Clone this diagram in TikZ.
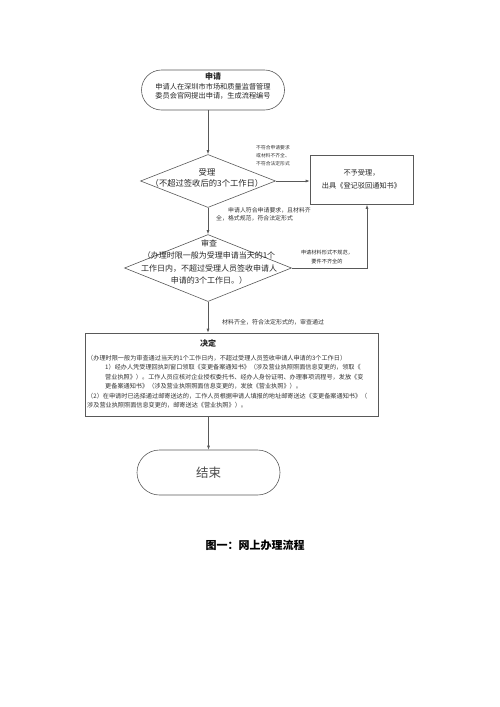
\documentclass[tikz,border=0pt]{standalone}
\usepackage{fontspec}
\setmainfont{Noto Sans CJK SC}
\usetikzlibrary{arrows.meta,shapes.geometric,shapes.misc}
\newcommand{\fs}[2]{\fontsize{#1pt}{#2pt}\selectfont}

\begin{document}
\begin{tikzpicture}[x=1pt,y=-1pt,>={Latex[length=4pt,width=3pt]},
  line/.style={draw=black!65,line width=0.6pt},
  term/.style={line,rounded rectangle,inner sep=0pt},
  dia/.style={line,diamond,inner sep=0pt},
  box/.style={line,rectangle,inner sep=0pt},
  txt/.style={align=center,inner sep=0pt,text=black!85},
  note/.style={align=left,inner sep=0pt,text=black!80}]
  \useasboundingbox (0,0) rectangle (500,707);
  % start
  \node[term,minimum width=143pt,minimum height=40pt] (apply) at (213,90) {};
  \node[txt,font=\fs{7.2}{9.2}] (applytext) at (213,86) {\textbf{\fs{8}{9.2}申请}\\申请人在深圳市市场和质量监督管理\\委员会官网提出申请，生成流程编号};
  % acceptance
  \node[dia,minimum width=135pt,minimum height=53pt] (accept) at (208,181) {};
  \node[txt,font=\fs{8.3}{11}] (accepttext) at (207,178) {受理\\（不超过签收后的3个工作日）};
  \node[box,minimum width=103pt,minimum height=49pt] (reject) at (361.5,180) {};
  \node[txt,font=\fs{7.2}{13}] (rejecttext) at (361.5,179) {不予受理，\\出具《登记驳回通知书》};
  % review
  \node[dia,minimum width=167pt,minimum height=67pt] (review) at (208,268) {};
  \node[txt,font=\fs{8}{12.3}] (reviewtext) at (209,262) {审查\\（办理时限一般为受理申请当天的1个\\工作日内，不超过受理人员签收申请人\\申请的3个工作日。）};
  % decision
  \node[box,minimum width=293pt,minimum height=83pt] (decide) at (231.5,374.5) {};
  \node[txt,font=\bfseries\fs{8}{9}] (decidetitle) at (208,343) {决定};
  \node[note,font=\fs{6.15}{9.4},anchor=north west] (decidetext) at (87,355) {（办理时限一般为审查通过当天的1个工作日内，不超过受理人员签收申请人申请的3个工作日）\\
    \hspace*{18pt}1）经办人凭受理回执到窗口领取《变更备案通知书》（涉及营业执照照面信息变更的，领取《\\
    \hspace*{18pt}营业执照》）。工作人员应核对企业授权委托书、经办人身份证明、办理事项流程号，发放《变\\
    \hspace*{18pt}更备案通知书》（涉及营业执照照面信息变更的，发放《营业执照》）。\\
    （2）在申请时已选择通过邮寄送达的，工作人员根据申请人填报的地址邮寄送达《变更备案通知书》（\\
    涉及营业执照照面信息变更的，邮寄送达《营业执照》）。};
  % end
  \node[term,minimum width=143pt,minimum height=45pt] (finish) at (208.5,472.5) {};
  \node[txt,font=\fs{12.5}{14},text=black!70] (finishtext) at (finish) {结束};
  % edge labels
  \node[note,font=\fs{4.8}{8.2},anchor=north west] (nolabel) at (256,145) {不符合申请要求\\或材料不齐全、\\不符合法定形式};
  \node[note,font=\fs{5.9}{8.4},anchor=north west] (oklabel) at (216,207) {\hspace*{12pt}申请人符合申请要求，且材料齐\\全，格式规范，符合法定形式};
  \node[txt,font=\fs{5.2}{8.6}] (badlabel) at (327,257) {申请材料形式不规范，\\要件不齐全的};
  \node[note,font=\fs{6}{8},anchor=west] (passlabel) at (222,322) {材料齐全，符合法定形式的，审查通过};
  \coordinate (turn) at (367,268);
  % connectors
  \draw[line,->] (apply.south -| accept.north) -- (accept.north);
  \draw[line,->] (accept.east) -- (accept.east -| reject.west);
  \draw[line,->] (accept.south) -- (review.north);
  \draw[line,->] (review.east) -- (turn) -- (turn |- reject.south);
  \draw[line,->] (review.south) -- (review.south |- decide.north);
  \draw[line,->] (finish.north |- decide.south) -- (finish.north);
  % caption
  \node[txt,font=\bfseries\fs{11}{12},text=black] (caption) at (255,545) {图一：网上办理流程};
\end{tikzpicture}
\end{document}
